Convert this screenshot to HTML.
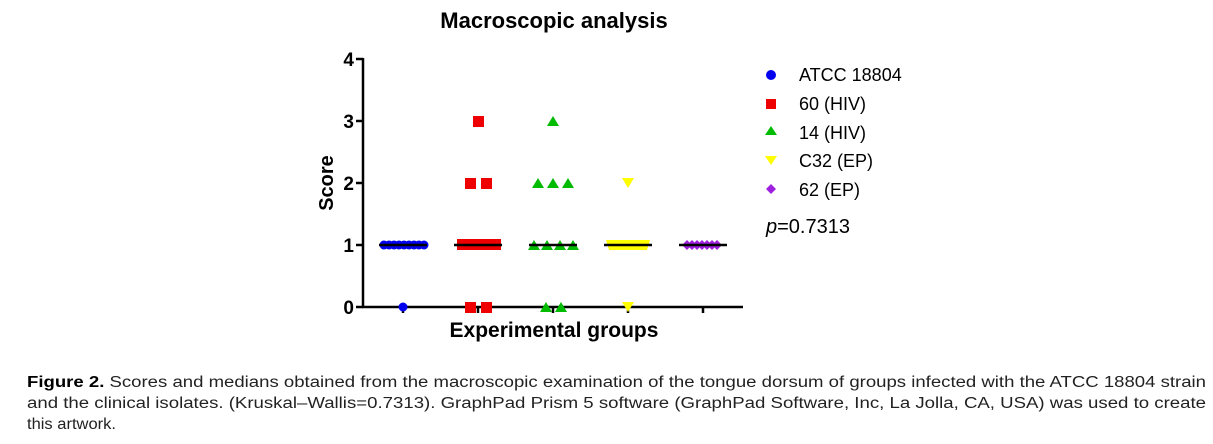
<!DOCTYPE html>
<html><head><meta charset="utf-8"><style>
html,body{margin:0;padding:0;background:#fff;}
svg{display:block;font-family:"Liberation Sans",Arial,sans-serif;}
</style></head><body>
<svg width="1213" height="444" viewBox="0 0 1213 444" xmlns="http://www.w3.org/2000/svg">
<rect width="1213" height="444" fill="#fff"/>
<text x="554" y="28" font-size="22" font-weight="bold" text-anchor="middle">Macroscopic analysis</text>
<g stroke="#000" stroke-width="2.5" fill="none">
<line x1="363" y1="58" x2="363" y2="308"/>
<line x1="362" y1="307" x2="743" y2="307"/>
<line x1="356" y1="59" x2="363" y2="59"/>
<line x1="356" y1="121" x2="363" y2="121"/>
<line x1="356" y1="183" x2="363" y2="183"/>
<line x1="356" y1="245" x2="363" y2="245"/>
<line x1="356" y1="307" x2="363" y2="307"/>
<line x1="403" y1="307" x2="403" y2="313"/>
<line x1="478" y1="307" x2="478" y2="313"/>
<line x1="553" y1="307" x2="553" y2="313"/>
<line x1="628" y1="307" x2="628" y2="313"/>
<line x1="703" y1="307" x2="703" y2="313"/>
</g>
<g font-size="19" font-weight="bold" text-anchor="end">
<text x="354" y="66">4</text><text x="354" y="128">3</text><text x="354" y="190">2</text><text x="354" y="252">1</text><text x="354" y="314">0</text>
</g>
<text transform="translate(333,183) rotate(-90)" font-size="20" font-weight="bold" text-anchor="middle">Score</text>
<text x="554" y="337" font-size="21" font-weight="bold" text-anchor="middle">Experimental groups</text>
<g fill="#0000ee">
<circle cx="384" cy="245" r="4.5"/><circle cx="389" cy="245" r="4.5"/><circle cx="394" cy="245" r="4.5"/><circle cx="399" cy="245" r="4.5"/><circle cx="404" cy="245" r="4.5"/><circle cx="409" cy="245" r="4.5"/><circle cx="414" cy="245" r="4.5"/><circle cx="419" cy="245" r="4.5"/><circle cx="424" cy="245" r="4.5"/>
<circle cx="403" cy="307" r="4.5"/>
</g>
<g fill="#ee0000">
<rect x="473" y="116" width="11" height="11"/>
<rect x="465" y="178" width="11" height="11"/><rect x="481" y="178" width="11" height="11"/>
<rect x="457" y="239" width="44" height="11"/>
<rect x="465" y="302" width="11" height="11"/><rect x="481" y="302" width="11" height="11"/>
</g>
<g fill="#00bb00">
<polygon points="553,116 547,126 559,126"/>
<polygon points="538,178 532,188 544,188"/><polygon points="553,178 547,188 559,188"/><polygon points="568,178 562,188 574,188"/>
<polygon points="534,240 528,250 540,250"/><polygon points="547,240 541,250 553,250"/><polygon points="560,240 554,250 566,250"/><polygon points="573,240 567,250 579,250"/>
<polygon points="546,302 540,312 552,312"/><polygon points="561,302 555,312 567,312"/>
</g>
<g fill="#ffff00">
<polygon points="622,178 634,178 628,188"/>
<polygon points="606,240 650,240 647,250 609,250"/>
<polygon points="622,302 634,302 628,312"/>
</g>
<g fill="#a020e0">
<polygon points="687,240 692,245 687,250 682,245"/><polygon points="692,240 697,245 692,250 687,245"/><polygon points="697,240 702,245 697,250 692,245"/><polygon points="702,240 707,245 702,250 697,245"/><polygon points="707,240 712,245 707,250 702,245"/><polygon points="712,240 717,245 712,250 707,245"/><polygon points="717,240 722,245 717,250 712,245"/>
</g>
<g stroke="#000" stroke-width="2.5">
<line x1="379" y1="245" x2="427" y2="245"/>
<line x1="454" y1="245" x2="502" y2="245"/>
<line x1="529" y1="245" x2="577" y2="245"/>
<line x1="604" y1="245" x2="652" y2="245"/>
<line x1="679" y1="245" x2="727" y2="245"/>
</g>
<circle cx="771" cy="75" r="5" fill="#0000ee"/>
<rect x="766" y="99" width="10" height="10" fill="#ee0000"/>
<polygon points="771,126 765,135 777,135" fill="#00bb00"/>
<polygon points="765,156 777,156 771,165" fill="#ffff00"/>
<polygon points="771,184 776,189 771,194 766,189" fill="#a020e0"/>
<g font-size="18">
<text x="799" y="81">ATCC 18804</text>
<text x="799" y="110">60 (HIV)</text>
<text x="799" y="139">14 (HIV)</text>
<text x="799" y="167">C32 (EP)</text>
<text x="799" y="196">62 (EP)</text>
<text x="766" y="233" font-size="20"><tspan font-style="italic">p</tspan>=0.7313</text>
</g>
<g font-size="15.5" fill="#222">
<text x="27" y="387" textLength="1179" lengthAdjust="spacingAndGlyphs"><tspan font-weight="bold" fill="#000">Figure 2.</tspan> Scores and medians obtained from the macroscopic examination of the tongue dorsum of groups infected with the ATCC 18804 strain</text>
<text x="27" y="408" textLength="1179" lengthAdjust="spacingAndGlyphs">and the clinical isolates. (Kruskal–Wallis=0.7313). GraphPad Prism 5 software (GraphPad Software, Inc, La Jolla, CA, USA) was used to create</text>
<text x="27" y="429" textLength="89" lengthAdjust="spacingAndGlyphs">this artwork.</text>
</g>
</svg>
</body></html>
